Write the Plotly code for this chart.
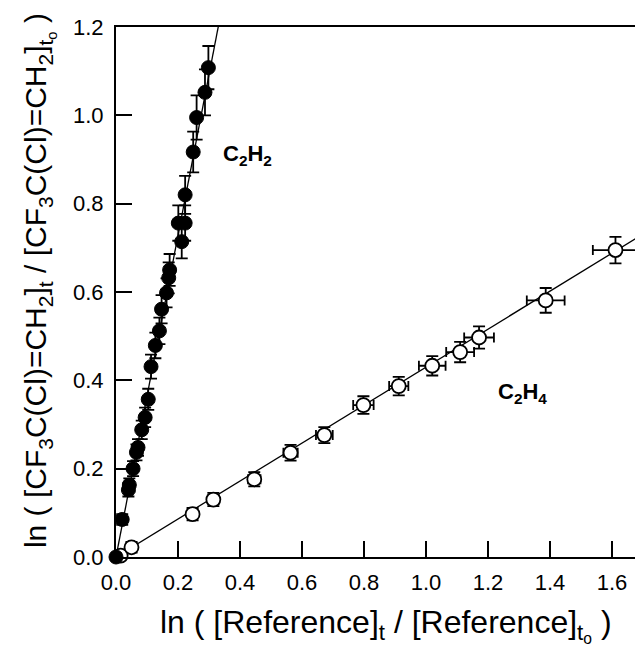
import plotly.graph_objects as go

# ---- data ----
c2h2_x = [0.0, 0.020, 0.040, 0.043, 0.055, 0.066, 0.071, 0.083, 0.094, 0.104, 0.113, 0.127, 0.140,
          0.147, 0.163, 0.170, 0.173, 0.212, 0.201, 0.223, 0.223, 0.249, 0.260, 0.287, 0.298]
c2h2_y = [0.0, 0.085, 0.152, 0.163, 0.200, 0.237, 0.248, 0.288, 0.316, 0.357, 0.431, 0.479, 0.512,
          0.561, 0.598, 0.632, 0.650, 0.714, 0.756, 0.756, 0.820, 0.917, 0.995, 1.052, 1.108]
c2h2_yerr = [0.008, 0.012, 0.015, 0.015, 0.017, 0.018, 0.019, 0.021, 0.022, 0.024, 0.027, 0.029, 0.030,
             0.032, 0.033, 0.035, 0.036, 0.038, 0.040, 0.040, 0.043, 0.046, 0.050, 0.052, 0.049]
c2h2_xerr = [0.004, 0.005, 0.005, 0.005, 0.006, 0.006, 0.006, 0.007, 0.007, 0.007, 0.008, 0.008, 0.008,
             0.008, 0.009, 0.009, 0.009, 0.010, 0.010, 0.010, 0.010, 0.011, 0.011, 0.012, 0.012]

c2h4_x = [0.015, 0.050, 0.247, 0.314, 0.446, 0.563, 0.672, 0.798, 0.912, 1.020, 1.110, 1.171, 1.386, 1.611]
c2h4_y = [0.003, 0.022, 0.097, 0.130, 0.176, 0.236, 0.276, 0.344, 0.387, 0.433, 0.464, 0.497, 0.581, 0.695]
c2h4_xerr = [0.010, 0.012, 0.015, 0.018, 0.020, 0.023, 0.027, 0.033, 0.031, 0.043, 0.045, 0.048, 0.061, 0.073]
c2h4_yerr = [0.010, 0.012, 0.014, 0.015, 0.016, 0.018, 0.018, 0.020, 0.021, 0.022, 0.023, 0.025, 0.028, 0.030]

slope_c2h2 = 3.64
slope_c2h4 = 0.43

x_ticks = [0.0, 0.2, 0.4, 0.6, 0.8, 1.0, 1.2, 1.4, 1.6]
y_ticks = [0.0, 0.2, 0.4, 0.6, 0.8, 1.0, 1.2]
X_RANGE = [0, 1.674]
Y_RANGE = [0, 1.2]

FONT = "Liberation Sans, Arial, sans-serif"

fig = go.Figure()

# fitted lines through origin
fig.add_trace(go.Scatter(x=[0, 0.4], y=[0, slope_c2h2 * 0.4], mode="lines",
                         line=dict(color="black", width=1.3), showlegend=False, hoverinfo="skip"))
fig.add_trace(go.Scatter(x=[0, 1.8], y=[0, slope_c2h4 * 1.8], mode="lines",
                         line=dict(color="black", width=1.3), showlegend=False, hoverinfo="skip"))

# C2H4 open circles
fig.add_trace(go.Scatter(
    x=c2h4_x, y=c2h4_y, mode="markers", showlegend=False, cliponaxis=False,
    marker=dict(symbol="circle", size=14, color="white", line=dict(color="black", width=1.8)),
    error_x=dict(type="data", array=c2h4_xerr, color="black", thickness=1.8, width=5),
    error_y=dict(type="data", array=c2h4_yerr, color="black", thickness=1.8, width=6),
))

# C2H2 filled circles
fig.add_trace(go.Scatter(
    x=c2h2_x, y=c2h2_y, mode="markers", showlegend=False, cliponaxis=False,
    marker=dict(symbol="circle", size=14, color="black", line=dict(color="black", width=1)),
    error_x=dict(type="data", array=c2h2_xerr, color="black", thickness=1.8, width=5),
    error_y=dict(type="data", array=c2h2_yerr, color="black", thickness=1.8, width=6),
))

annotations = [
    dict(x=0.423, y=0.91, xref="x", yref="y", text="<b>C<sub>2</sub>H<sub>2</sub></b>",
         showarrow=False, font=dict(family=FONT, size=22, color="black"),
         xanchor="center", yanchor="middle"),
    dict(x=1.31, y=0.371, xref="x", yref="y", text="<b>C<sub>2</sub>H<sub>4</sub></b>",
         showarrow=False, font=dict(family=FONT, size=22, color="black"),
         xanchor="center", yanchor="middle"),
    dict(x=0.52, y=-0.13, xref="paper", yref="paper",
         text="ln ( [Reference]<sub>t</sub> / [Reference]<sub>t<sub>o</sub></sub> )",
         showarrow=False, font=dict(family=FONT, size=32, color="black"),
         xanchor="center", yanchor="middle"),
    dict(x=-0.146, y=0.521, xref="paper", yref="paper", textangle=-90,
         text="ln ( [CF<sub>3</sub>C(Cl)=CH<sub>2</sub>]<sub>t</sub> / [CF<sub>3</sub>C(Cl)=CH<sub>2</sub>]<sub>t<sub>o</sub></sub> )",
         showarrow=False, font=dict(family=FONT, size=30, color="black"),
         xanchor="center", yanchor="middle"),
]

fig.update_layout(
    width=635, height=653,
    margin=dict(l=116, r=0, t=27, b=96),
    paper_bgcolor="white", plot_bgcolor="white",
    font=dict(family=FONT, size=22, color="black"),
    annotations=annotations,
    showlegend=False,
)
fig.update_xaxes(
    range=X_RANGE, tickvals=x_ticks, ticktext=[f"{v:.1f}" for v in x_ticks],
    ticks="inside", ticklen=16, tickwidth=1.5, tickcolor="black",
    showline=True, linewidth=2, linecolor="black", mirror=True,
    showgrid=False, zeroline=False, ticklabelstandoff=5,
    tickfont=dict(family=FONT, size=22, color="black"),
)
fig.update_yaxes(
    range=Y_RANGE, tickvals=y_ticks, ticktext=[f"{v:.1f}" for v in y_ticks],
    ticks="inside", ticklen=16, tickwidth=1.5, tickcolor="black",
    showline=True, linewidth=2, linecolor="black", mirror=False,
    showgrid=False, zeroline=False, ticklabelstandoff=6,
    tickfont=dict(family=FONT, size=22, color="black"),
)

fig.write_html("out.html")
